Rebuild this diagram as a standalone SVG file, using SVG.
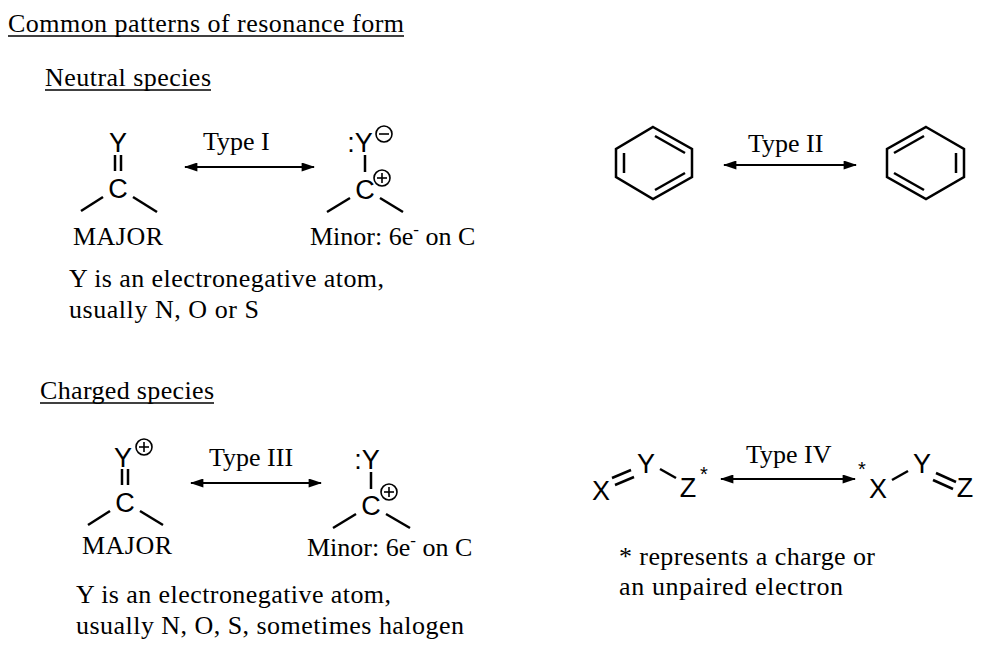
<svg xmlns="http://www.w3.org/2000/svg" width="986" height="647" viewBox="0 0 986 647">
<defs>
<style>
.t{font-family:"Liberation Serif",serif;font-size:26px;fill:#000}
.a{font-family:"Liberation Sans",sans-serif;font-size:27px;fill:#000;text-anchor:middle}
.s{font-family:"Liberation Sans",sans-serif;font-size:20px;fill:#000;text-anchor:middle}
.b{stroke:#000;stroke-width:2.5;fill:none}
.c{stroke:#000;stroke-width:1.6;fill:none}
.ar{stroke:#000;stroke-width:2;marker-start:url(#h);marker-end:url(#h)}
</style>
<marker id="h" viewBox="0 0 12 8" refX="11" refY="4" markerWidth="14" markerHeight="9" markerUnits="userSpaceOnUse" orient="auto-start-reverse"><path d="M0,0L12,4L0,8z" fill="#000"/></marker>
</defs>
<rect width="986" height="647" fill="#fff"/>
<g id="headings">
<text class="t" x="8" y="32" textLength="396">Common patterns of resonance form</text><line x1="8" y1="36" x2="404" y2="36" stroke="#000" stroke-width="1.3"/>
<text class="t" x="45" y="86" textLength="166">Neutral species</text><line x1="45" y1="90" x2="211" y2="90" stroke="#000" stroke-width="1.3"/>
<text class="t" x="40" y="399" textLength="174">Charged species</text><line x1="40" y1="403" x2="214" y2="403" stroke="#000" stroke-width="1.3"/>
</g>
<g id="major1">
<text class="a" x="118" y="152">Y</text>
<line class="b" x1="115" y1="155" x2="115" y2="171"/><line class="b" x1="121" y1="155" x2="121" y2="171"/>
<text class="a" x="118" y="198">C</text>
<line class="b" x1="103" y1="197" x2="81" y2="211"/><line class="b" x1="133" y1="197" x2="157" y2="212"/>
<text class="t" x="73" y="245" textLength="90">MAJOR</text>
</g>
<g id="minor1">
<text class="a" x="360" y="152">:Y</text>
<circle class="c" cx="384" cy="134" r="8"/><line class="c" x1="379" y1="134" x2="389" y2="134"/>
<line class="b" x1="365" y1="155" x2="365" y2="172"/>
<text class="a" x="365" y="199">C</text>
<circle class="c" cx="382" cy="178" r="8"/><line class="c" x1="377" y1="178" x2="387" y2="178"/><line class="c" x1="382" y1="173" x2="382" y2="183"/>
<line class="b" x1="350" y1="198" x2="327" y2="212"/><line class="b" x1="380" y1="198" x2="403" y2="212"/>
<text class="t" x="310" y="245">Minor: 6e<tspan dy="-10" font-size="17">-</tspan><tspan dy="10"> on C</tspan></text>
</g>
<text class="t" x="69" y="287" textLength="315">Y is an electronegative atom,</text>
<text class="t" x="69" y="318" textLength="190">usually N, O or S</text>
<g id="benzene1">
<path class="b" d="M653,127L692,149L692,177L653,199L616,177L616,149Z"/>
<line class="b" x1="624" y1="153" x2="624" y2="173"/>
<line class="b" x1="655" y1="136" x2="685" y2="153"/>
<line class="b" x1="655" y1="190" x2="685" y2="173"/>
</g>
<g id="benzene2">
<path class="b" d="M926,127L964,149L964,177L926,199L887,177L887,149Z"/>
<line class="b" x1="956" y1="153" x2="956" y2="173"/>
<line class="b" x1="924" y1="136" x2="894" y2="153"/>
<line class="b" x1="924" y1="190" x2="894" y2="173"/>
</g>
<g id="major3">
<text class="a" x="123" y="467">Y</text>
<circle class="c" cx="144" cy="447" r="8"/><line class="c" x1="139" y1="447" x2="149" y2="447"/><line class="c" x1="144" y1="442" x2="144" y2="452"/>
<line class="b" x1="122" y1="469" x2="122" y2="485"/><line class="b" x1="128" y1="469" x2="128" y2="485"/>
<text class="a" x="125" y="512">C</text>
<line class="b" x1="110" y1="511" x2="88" y2="525"/><line class="b" x1="140" y1="511" x2="163" y2="525"/>
<text class="t" x="82" y="554" textLength="90">MAJOR</text>
</g>
<g id="minor3">
<text class="a" x="367" y="469">:Y</text>
<line class="b" x1="371" y1="472" x2="371" y2="489"/>
<text class="a" x="371" y="515">C</text>
<circle class="c" cx="389" cy="492" r="8"/><line class="c" x1="384" y1="492" x2="394" y2="492"/><line class="c" x1="389" y1="487" x2="389" y2="497"/>
<line class="b" x1="356" y1="514" x2="333" y2="528"/><line class="b" x1="386" y1="514" x2="410" y2="528"/>
<text class="t" x="307" y="556">Minor: 6e<tspan dy="-10" font-size="17">-</tspan><tspan dy="10"> on C</tspan></text>
</g>
<text class="t" x="76" y="603" textLength="315">Y is an electronegative atom,</text>
<text class="t" x="76" y="634" textLength="388">usually N, O, S, sometimes halogen</text>
<g id="xyz1">
<text class="a" x="601" y="500">X</text>
<line class="b" x1="612" y1="478" x2="631" y2="470"/><line class="b" x1="615" y1="485" x2="634" y2="477"/>
<text class="a" x="646" y="473">Y</text>
<line class="b" x1="660" y1="469" x2="676" y2="478"/>
<text class="a" x="688" y="497">Z</text>
<text class="s" x="704" y="481">*</text>
</g>
<g id="xyz2">
<text class="s" x="862" y="476">*</text>
<text class="a" x="878" y="498">X</text>
<line class="b" x1="892" y1="480" x2="908" y2="471"/>
<text class="a" x="922" y="473">Y</text>
<line class="b" x1="936" y1="473" x2="956" y2="482"/><line class="b" x1="933" y1="480" x2="953" y2="489"/>
<text class="a" x="965" y="497">Z</text>
</g>
<text class="t" x="619" y="565" textLength="256">* represents a charge or</text>
<text class="t" x="619" y="595" textLength="224">an unpaired electron</text>
<g id="connectors">
<line class="ar" x1="185" y1="167" x2="314" y2="167"/>
<text class="t" x="203" y="150">Type I</text>
<line class="ar" x1="724" y1="165" x2="856" y2="165"/>
<text class="t" x="748" y="152">Type II</text>
<line class="ar" x1="191" y1="483" x2="321" y2="483"/>
<text class="t" x="209" y="466">Type III</text>
<line class="ar" x1="721" y1="479" x2="855" y2="479"/>
<text class="t" x="746" y="463">Type IV</text>
</g>
</svg>
